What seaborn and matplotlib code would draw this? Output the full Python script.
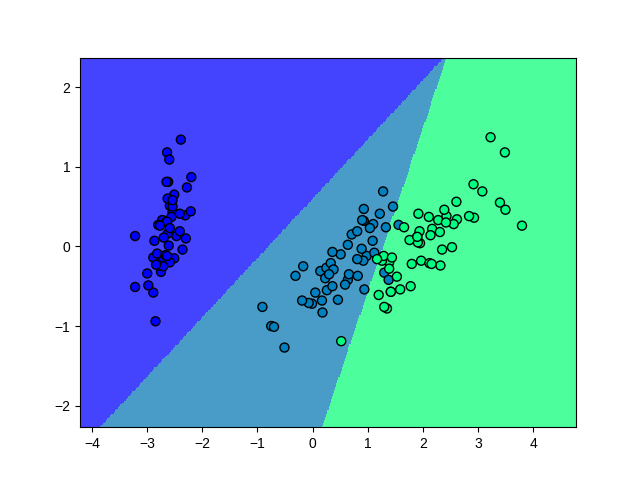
import numpy as np
import pandas as pd
import matplotlib
matplotlib.use('Agg')
import matplotlib.pyplot as plt
from matplotlib.colors import ListedColormap
import seaborn as sns

plt.rcParams['font.family'] = ['Liberation Sans', 'DejaVu Sans']

# titik hasil PCA (komponen 1 dan 2)
pc1_setosa = [-2.68, -2.71, -2.89, -2.75, -2.73, -2.28, -2.82, -2.63, -2.89, -2.67,
              -2.51, -2.61, -2.79, -3.22, -2.64, -2.39, -2.62, -2.65, -2.20, -2.59,
              -2.31, -2.54, -3.22, -2.30, -2.36, -2.51, -2.47, -2.56, -2.64, -2.63,
              -2.59, -2.41, -2.65, -2.60, -2.64, -2.87, -2.63, -2.80, -2.98, -2.59,
              -2.77, -2.85, -3.00, -2.41, -2.21, -2.71, -2.54, -2.84, -2.54, -2.70]
pc2_setosa = [0.32, -0.18, -0.14, -0.32, 0.33, 0.74, -0.09, 0.16, -0.58, -0.11,
              0.65, 0.01, -0.24, -0.51, 1.18, 1.34, 0.81, 0.31, 0.87, 0.51,
              0.39, 0.43, 0.13, 0.10, -0.04, -0.15, 0.13, 0.37, 0.31, -0.20,
              -0.20, 0.41, 0.81, 1.09, -0.12, 0.07, 0.60, 0.27, -0.49, 0.23,
              0.26, -0.94, -0.34, 0.19, 0.44, -0.25, 0.50, -0.23, 0.58, 0.11]

pc1_versicolor = [1.28, 0.93, 1.46, 0.18, 1.09, 0.64, 1.10, -0.75, 1.04, -0.01,
                  -0.51, 0.51, 0.26, 0.98, -0.17, 0.93, 0.66, 0.24, 0.94, 0.05,
                  1.12, 0.36, 1.30, 0.92, 0.71, 0.90, 1.33, 1.56, 0.81, -0.31,
                  -0.07, -0.19, 0.14, 1.38, 0.59, 0.81, 1.22, 0.82, 0.25, 0.17,
                  0.46, 0.89, 0.23, -0.70, 0.36, 0.33, 0.38, 0.64, -0.91, 0.30]
pc2_versicolor = [0.69, 0.32, 0.50, -0.83, 0.07, -0.42, 0.28, -1.00, 0.23, -0.72,
                  -1.27, -0.10, -0.55, -0.12, -0.25, 0.47, -0.35, -0.33, -0.54, -0.58,
                  -0.08, -0.07, -0.33, -0.18, 0.15, 0.33, 0.24, 0.27, -0.16, -0.37,
                  -0.71, -0.68, -0.31, -0.42, -0.48, 0.19, 0.41, -0.37, -0.27, -0.68,
                  -0.67, -0.03, -0.40, -1.01, -0.50, -0.21, -0.29, 0.02, -0.76, -0.35]

pc1_virginica = [2.53, 1.42, 2.62, 1.97, 2.35, 3.40, 0.52, 2.93, 2.32, 2.92,
                 1.66, 1.80, 2.17, 1.35, 1.59, 1.90, 1.95, 3.49, 3.80, 1.30,
                 2.43, 1.20, 3.50, 1.39, 2.28, 2.61, 1.26, 1.29, 2.12, 2.39,
                 2.84, 3.23, 2.16, 1.44, 1.78, 3.08, 2.14, 1.91, 1.17, 2.11,
                 2.31, 1.92, 1.42, 2.56, 2.42, 1.94, 1.53, 1.76, 1.90, 1.39]
pc2_virginica = [-0.01, -0.57, 0.34, -0.18, -0.04, 0.55, -1.19, 0.36, -0.24, 0.78,
                 0.24, -0.22, 0.22, -0.78, -0.54, 0.12, 0.04, 1.18, 0.26, -0.76,
                 0.38, -0.61, 0.46, -0.20, 0.33, 0.56, -0.18, -0.12, -0.21, 0.46,
                 0.38, 1.37, -0.22, -0.14, -0.50, 0.69, 0.14, 0.05, -0.16, 0.37,
                 0.18, 0.41, -0.57, 0.28, 0.30, 0.19, -0.38, 0.08, 0.12, -0.28]

# koefisien fungsi keputusan linear (kelas 0, 1, 2), ditaksir dari batas wilayah
coef_x = [-1.54, 0.0, 2.30]
coef_y = [2.07, 0.0, -1.12]
intercept = [-1.24, 0.0, -2.94]

warna_latar = ['#4444ff', '#4a9cc8', '#4cff9c']
warna_titik = ['#0000ff', '#0080bf', '#00ff80']

df = pd.DataFrame({
    'pc1': pc1_setosa + pc1_versicolor + pc1_virginica,
    'pc2': pc2_setosa + pc2_versicolor + pc2_virginica,
    'kelas': [0] * 50 + [1] * 50 + [2] * 50,
})

# grid untuk wilayah keputusan
x_min, x_max = df['pc1'].min() - 1, df['pc1'].max() + 1
y_min, y_max = df['pc2'].min() - 1, df['pc2'].max() + 1
h = 0.02
xx, yy = np.meshgrid(np.arange(x_min, x_max, h), np.arange(y_min, y_max, h))
skor = np.stack([coef_x[k] * xx + coef_y[k] * yy + intercept[k] for k in range(3)])
Z = skor.argmax(axis=0)

fig, ax = plt.subplots(figsize=(6.4, 4.8), dpi=100)
ax.pcolormesh(xx, yy, Z, cmap=ListedColormap(warna_latar), shading='auto')

sns.scatterplot(data=df, x='pc1', y='pc2', hue='kelas', palette=warna_titik,
                edgecolor='k', linewidth=1, s=42, legend=False, ax=ax)

ax.set_xlim(xx.min(), xx.max())
ax.set_ylim(yy.min(), yy.max())
ax.set_xlabel('')
ax.set_ylabel('')

plt.savefig('out.png')
